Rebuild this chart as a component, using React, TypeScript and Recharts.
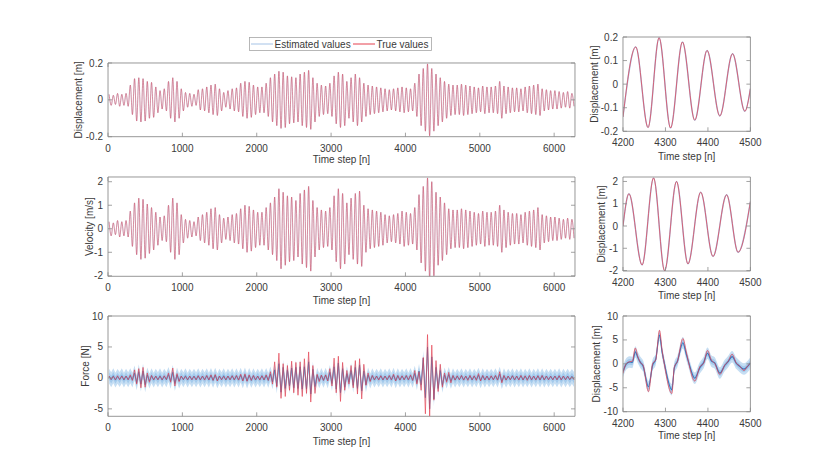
import React from "react"
import { ComposedChart, Line, Area, XAxis, YAxis } from "recharts"

// ---- data ----
// one oscillation lasts about 57 time steps (see the zoomed panels)
const CYCLE = 57.1
const fullDomain: [number, number] = [0, 6280]
const fullTicks = [0, 1000, 2000, 3000, 4000, 5000, 6000]
const zoomDomain: [number, number] = [4200, 4500]
const zoomTicks = [4200, 4300, 4400, 4500]
const seriesNames = ["Estimated values", "True values"]

// displacement amplitude per cycle [m]
const dispAmp = [
  0.03, 0.025, 0.035, 0.03, 0.035, 0.08, 0.115, 0.12, 0.115, 0.1,
  0.095, 0.07, 0.05, 0.06, 0.1, 0.12, 0.1, 0.06, 0.04, 0.035,
  0.03, 0.055, 0.06, 0.07, 0.08, 0.085, 0.06, 0.04, 0.05, 0.06,
  0.065, 0.09, 0.1, 0.095, 0.08, 0.07, 0.07, 0.09, 0.12, 0.14,
  0.155, 0.15, 0.13, 0.125, 0.12, 0.14, 0.15, 0.16, 0.12, 0.09,
  0.08, 0.075, 0.09, 0.13, 0.15, 0.14, 0.1, 0.12, 0.14, 0.12,
  0.09, 0.08, 0.075, 0.07, 0.065, 0.06, 0.055, 0.06, 0.065, 0.07,
  0.065, 0.06, 0.09, 0.14, 0.17, 0.195, 0.17, 0.14, 0.12, 0.1,
  0.085, 0.08, 0.08, 0.085, 0.08, 0.075, 0.07, 0.065, 0.075, 0.07,
  0.07, 0.075, 0.1, 0.075, 0.07, 0.065, 0.065, 0.06, 0.07, 0.075,
  0.08, 0.085, 0.06, 0.055, 0.05, 0.05, 0.045, 0.04, 0.045, 0.035,
]

// velocity amplitude per cycle [m/s]
const velAmp = [
  0.3, 0.25, 0.35, 0.3, 0.35, 0.75, 1.1, 1.3, 1.25, 1.05,
  0.9, 0.7, 0.5, 0.55, 1.0, 1.3, 1.1, 0.6, 0.4, 0.35,
  0.3, 0.5, 0.6, 0.7, 0.85, 0.9, 0.6, 0.45, 0.5, 0.6,
  0.65, 0.85, 1.0, 0.95, 0.8, 0.7, 0.7, 0.9, 1.1, 1.35,
  1.7, 1.55, 1.4, 1.35, 1.2, 1.5, 1.65, 1.8, 1.2, 0.9,
  0.8, 0.75, 0.9, 1.4, 1.7, 1.5, 1.1, 1.3, 1.5, 1.6,
  1.0, 0.85, 0.8, 0.75, 0.7, 0.6, 0.55, 0.6, 0.65, 0.75,
  0.7, 0.65, 0.9, 1.45, 1.8, 2.16, 2.0, 1.55, 1.35, 1.1,
  0.85, 0.8, 0.8, 0.85, 0.8, 0.75, 0.7, 0.65, 0.75, 0.7,
  0.7, 0.75, 1.0, 0.8, 0.7, 0.65, 0.65, 0.6, 0.7, 0.75,
  0.8, 0.9, 0.6, 0.55, 0.5, 0.5, 0.45, 0.4, 0.45, 0.4,
]

// true force, positive and negative extreme per cycle [N]
const forcePeak = [
  0.3, 0.25, 0.35, 0.3, 0.3, 0.5, 1.3, 1.5, 1.7, 0.8,
  0.4, 0.3, 0.25, 0.35, 0.8, 1.6, 0.7, 0.3, 0.25, 0.3,
  0.25, 0.35, 0.3, 0.4, 0.5, 0.55, 0.3, 0.25, 0.3, 0.35,
  0.4, 0.6, 0.65, 0.5, 0.4, 0.3, 0.35, 0.5, 1.0, 2.6,
  4.0, 2.3, 2.0, 2.7, 2.5, 2.6, 3.1, 4.2, 2.0, 0.6,
  0.45, 0.5, 1.5, 3.2, 3.5, 2.5, 1.2, 2.0, 2.8, 3.1,
  2.2, 0.8, 0.4, 0.3, 0.35, 0.3, 0.4, 0.6, 0.4, 0.35,
  0.4, 0.5, 1.2, 1.0, 3.3, 7.0, 5.3, 2.8, 2.2, 0.8,
  0.9, 0.4, 0.35, 0.4, 0.3, 0.4, 0.35, 0.7, 0.4, 0.3,
  0.35, 0.4, 1.0, 0.4, 0.3, 0.35, 0.3, 0.4, 0.35, 0.4,
  0.3, 0.35, 0.4, 0.3, 0.25, 0.3, 0.35, 0.3, 0.25, 0.2,
]
const forceTrough = [
  -0.25, -0.3, -0.3, -0.25, -0.3, -0.4, -1.0, -1.6, -1.5, -0.7,
  -0.3, -0.3, -0.3, -0.25, -0.7, -1.3, -0.6, -0.25, -0.3, -0.3,
  -0.3, -0.3, -0.35, -0.3, -0.4, -0.5, -0.3, -0.3, -0.3, -0.3,
  -0.35, -0.5, -0.55, -0.4, -0.3, -0.35, -0.3, -0.4, -1.0, -1.5,
  -3.3, -3.0, -2.0, -2.4, -2.8, -3.0, -2.5, -3.9, -2.5, -0.6,
  -0.4, -0.5, -1.3, -2.4, -3.8, -2.0, -1.0, -1.6, -2.6, -3.4,
  -1.2, -0.6, -0.3, -0.35, -0.3, -0.3, -0.3, -0.5, -0.35, -0.3,
  -0.3, -0.4, -1.0, -2.0, -5.8, -6.2, -3.6, -2.2, -1.5, -0.7,
  -0.8, -0.35, -0.3, -0.35, -0.4, -0.3, -0.4, -0.5, -0.3, -0.35,
  -0.3, -0.35, -0.8, -0.35, -0.3, -0.3, -0.35, -0.3, -0.4, -0.3,
  -0.35, -0.3, -0.3, -0.3, -0.3, -0.3, -0.3, -0.3, -0.25, -0.3,
]
// estimated force amplitude per cycle [N]
const forceEstAmp = [
  0.3, 0.35, 0.25, 0.35, 0.3, 0.35, 0.8, 1.0, 1.1, 0.5,
  0.35, 0.3, 0.35, 0.3, 0.55, 0.9, 0.5, 0.3, 0.35, 0.3,
  0.3, 0.35, 0.3, 0.35, 0.4, 0.45, 0.3, 0.35, 0.3, 0.35,
  0.35, 0.45, 0.5, 0.4, 0.35, 0.3, 0.35, 0.4, 0.65, 1.3,
  2.3, 1.7, 1.3, 1.6, 1.7, 1.8, 1.8, 2.6, 1.4, 0.45,
  0.4, 0.45, 0.9, 1.8, 2.4, 1.5, 0.7, 1.2, 1.7, 2.1,
  1.1, 0.5, 0.35, 0.3, 0.35, 0.3, 0.35, 0.45, 0.35, 0.3,
  0.35, 0.4, 0.75, 1.1, 3.2, 5.0, 3.4, 1.7, 1.2, 0.5,
  0.55, 0.35, 0.3, 0.35, 0.3, 0.35, 0.3, 0.45, 0.35, 0.3,
  0.3, 0.35, 0.6, 0.35, 0.3, 0.35, 0.3, 0.35, 0.3, 0.35,
  0.3, 0.35, 0.35, 0.3, 0.3, 0.3, 0.35, 0.3, 0.3, 0.25,
]
// half widths of the two confidence bands around the estimate [N]
const bandHalfWidth = [1.2, 0.6]

// zoomed window 4200-4500
const dispZoomSteps = [4200, 4230, 4259, 4285, 4312, 4340, 4369, 4398, 4428, 4458, 4487, 4500]
const dispZoomValues = [-0.139, 0.158, -0.184, 0.197, -0.186, 0.179, -0.153, 0.143, -0.135, 0.129, -0.115, -0.019]
const velZoomSteps = [4200, 4214, 4245, 4272, 4298, 4326, 4353, 4383, 4412, 4444, 4471, 4500]
const velZoomValues = [0.0, 1.45, -1.75, 2.16, -2.01, 2.0, -1.7, 1.52, -1.37, 1.4, -1.18, 1.1]
const forceZoomSteps = [
  4200, 4208, 4216, 4222, 4229, 4235, 4241, 4247, 4260, 4270, 4277, 4286, 4292, 4297, 4315, 4321, 4328, 4341,
  4349, 4354, 4369, 4381, 4390, 4399, 4408, 4416, 4428, 4440, 4447, 4457, 4467, 4473, 4485, 4494, 4500,
]
const forceZoomTrue = [
  -2.0, 0.1, 0.45, 0.55, 3.3, 1.5, 0.25, -0.2, -5.8, 0.1, 0.8, 7.0, 2.9, 0.1, -6.2, -0.6, 0.45, 5.3,
  2.5, 0.45, -3.6, -0.6, 0.1, 2.8, 0.8, 0.1, -2.2, -0.2, 0.45, 2.0, 0.1, -0.3, -1.4, -0.4, 0.1,
]
const forceZoomEst = [
  -1.6, 0.0, 0.4, 0.3, 2.5, 1.3, 0.3, -0.4, -4.8, -0.2, 0.9, 6.0, 2.5, 0.3, -5.4, -0.8, 0.5, 4.4,
  2.0, 0.5, -3.0, -0.8, 0.3, 2.2, 0.6, 0.2, -1.9, -0.3, 0.4, 1.5, 0.1, -0.4, -1.1, -0.5, 0.2,
]

// ---- tables for the charts ----
const peakStep = (i: number) => CYCLE * i + CYCLE / 4
const troughStep = (i: number) => CYCLE * i + (3 * CYCLE) / 4

const band = (e: number) => ({
  outer: [e - bandHalfWidth[0], e + bandHalfWidth[0]],
  inner: [e - bandHalfWidth[1], e + bandHalfWidth[1]],
})

const dispRows = dispAmp.flatMap((a, i) => [
  { step: peakStep(i), value: a },
  { step: troughStep(i), value: -a },
])
const velRows = velAmp.flatMap((a, i) => [
  { step: peakStep(i), value: a },
  { step: troughStep(i), value: -a },
])
const forceRows = forcePeak.flatMap((p, i) => {
  const e = forceEstAmp[i]
  return [
    { step: peakStep(i), truth: p, est: e, ...band(e) },
    { step: troughStep(i), truth: forceTrough[i], est: -e, ...band(-e) },
  ]
})
const dispZoomRows = dispZoomSteps.map((step, i) => ({ step, value: dispZoomValues[i] }))
const velZoomRows = velZoomSteps.map((step, i) => ({ step, value: velZoomValues[i] }))
const forceZoomRows = forceZoomSteps.map((step, i) => ({
  step,
  truth: forceZoomTrue[i],
  est: forceZoomEst[i],
  ...band(forceZoomEst[i]),
}))

// ---- styling ----
const FONT = '"Liberation Sans", Arial, Helvetica, sans-serif'
const AXIS = "#8c8c8c"
const TEXT = "#3a3a3a"
const RED = "#e5404f"
const LIGHT_BLUE = "#a5c3e6"
const BLUE = "#3676bd"
const BAND_OUTER = "#c6def3"
const BAND_INNER = "#98c3e9"
const TICK_LEN = 4
const X_GAP = 11.5
const Y_GAP = 5
const Y_W = 50
const PAD_RIGHT = 16
const PAD_BOTTOM = 8

const bottomTick = ({ x, y, payload }: any) => (
  <g>
    <line x1={x} x2={x} y1={y - X_GAP} y2={y - X_GAP - TICK_LEN} stroke={AXIS} strokeWidth={0.8} />
    <text x={x} y={y} dy="0.35em" textAnchor="middle" fontSize={10} fill={TEXT} fontFamily={FONT}>
      {payload.value}
    </text>
  </g>
)
const topTick = ({ x, y }: any) => (
  <line x1={x} x2={x} y1={y} y2={y + TICK_LEN} stroke={AXIS} strokeWidth={0.8} />
)
const leftTick = ({ x, y, payload }: any) => (
  <g>
    <line x1={x + Y_GAP} x2={x + Y_GAP + TICK_LEN} y1={y} y2={y} stroke={AXIS} strokeWidth={0.8} />
    <text x={x} y={y} dy="0.35em" textAnchor="end" fontSize={10} fill={TEXT} fontFamily={FONT}>
      {payload.value}
    </text>
  </g>
)
const rightTick = ({ x, y }: any) => (
  <line x1={x} x2={x - TICK_LEN} y1={y} y2={y} stroke={AXIS} strokeWidth={0.8} />
)

type Box = { left: number; top: number; width: number; height: number; xH: number; labelX: number }

function Panel({
  box,
  data,
  xDomain,
  xTicks,
  yDomain,
  yTicks,
  yLabel,
  children,
}: {
  box: Box
  data: any[]
  xDomain: [number, number]
  xTicks: number[]
  yDomain: [number, number]
  yTicks: number[]
  yLabel: string
  children: React.ReactNode
}) {
  const chartLeft = box.left - Y_W
  const chartTop = box.top - 5
  const axisLine = { stroke: AXIS, strokeWidth: 0.9 }
  return (
    <div style={{ position: "absolute", left: chartLeft, top: chartTop }}>
      <ComposedChart
        width={Y_W + box.width + 1 + PAD_RIGHT}
        height={5 + box.height + box.xH + PAD_BOTTOM}
        data={data}
        margin={{ top: 4, right: PAD_RIGHT, left: 0, bottom: 0 }}
      >
        <XAxis
          dataKey="step"
          type="number"
          domain={xDomain}
          ticks={xTicks}
          allowDataOverflow
          interval={0}
          height={box.xH + PAD_BOTTOM}
          tickSize={0}
          tickMargin={X_GAP}
          tickLine={false}
          axisLine={axisLine}
          tick={bottomTick}
          label={{ value: "Time step [n]", position: "insideBottom", offset: PAD_BOTTOM, fontSize: 10, fill: TEXT }}
        />
        <XAxis
          xAxisId="top"
          orientation="top"
          type="number"
          domain={xDomain}
          ticks={xTicks}
          allowDataOverflow
          interval={0}
          height={1}
          tickSize={0}
          tickMargin={0}
          tickLine={false}
          axisLine={axisLine}
          tick={topTick}
        />
        <YAxis
          type="number"
          domain={yDomain}
          ticks={yTicks}
          allowDataOverflow
          interval={0}
          width={Y_W}
          tickSize={0}
          tickMargin={Y_GAP}
          tickLine={false}
          axisLine={axisLine}
          tick={leftTick}
          label={{
            value: yLabel,
            angle: -90,
            position: "insideLeft",
            offset: box.labelX - chartLeft,
            fontSize: 10,
            fill: TEXT,
            style: { textAnchor: "middle" },
          }}
        />
        <YAxis
          yAxisId="right"
          orientation="right"
          type="number"
          domain={yDomain}
          ticks={yTicks}
          allowDataOverflow
          interval={0}
          width={1}
          tickSize={0}
          tickMargin={0}
          tickLine={false}
          axisLine={axisLine}
          tick={rightTick}
        />
        {children}
      </ComposedChart>
    </div>
  )
}

function Legend() {
  return (
    <svg style={{ position: "absolute", left: 249, top: 36.5 }} width={183} height={14}>
      <rect x={0.5} y={0.5} width={182} height={13} fill="#fff" stroke="#a6a6a6" strokeWidth={0.8} />
      <line x1={2} x2={24} y1={7} y2={7} stroke={LIGHT_BLUE} strokeWidth={1} />
      <text x={25.5} y={7} dy="0.35em" fontSize={10} fill={TEXT} fontFamily={FONT}>
        {seriesNames[0]}
      </text>
      <line x1={104} x2={126} y1={7} y2={7} stroke={RED} strokeWidth={1} />
      <text x={127.5} y={7} dy="0.35em" fontSize={10} fill={TEXT} fontFamily={FONT}>
        {seriesNames[1]}
      </text>
    </svg>
  )
}

const pairLines = (wide: number, thin: number, opacity: number) => [
  <Line key="est" dataKey="value" name={seriesNames[0]} type="monotone" stroke={LIGHT_BLUE} strokeWidth={wide} dot={false} isAnimationActive={false} />,
  <Line key="true" dataKey="value" name={seriesNames[1]} type="monotone" stroke={RED} strokeOpacity={opacity} strokeWidth={thin} dot={false} isAnimationActive={false} />,
]

const forceSeries = (curve: "linear" | "monotone", width: number, redOpacity: number) => [
  <Area key="outer" dataKey="outer" type={curve} stroke="none" fill={BAND_OUTER} fillOpacity={1} isAnimationActive={false} />,
  <Area key="inner" dataKey="inner" type={curve} stroke="none" fill={BAND_INNER} fillOpacity={0.75} isAnimationActive={false} />,
  <Line key="est" dataKey="est" name={seriesNames[0]} type={curve} stroke={BLUE} strokeWidth={width} dot={false} isAnimationActive={false} />,
  <Line key="true" dataKey="truth" name={seriesNames[1]} type={curve} stroke={RED} strokeOpacity={redOpacity} strokeWidth={width * 0.9} dot={false} isAnimationActive={false} />,
]

export default function App() {
  return (
    <div
      style={{
        position: "absolute",
        left: 0,
        top: 0,
        width: 830,
        height: 468,
        background: "#fff",
        fontFamily: FONT,
        overflow: "hidden",
      }}
    >
      <Panel
        box={{ left: 108, top: 63.3, width: 467, height: 73.7, xH: 26, labelX: 78 }}
        data={dispRows}
        xDomain={fullDomain}
        xTicks={fullTicks}
        yDomain={[-0.2, 0.2]}
        yTicks={[-0.2, 0, 0.2]}
        yLabel="Displacement [m]"
      >
        {pairLines(0.6, 0.55, 0.9)}
      </Panel>
      <Panel
        box={{ left: 108, top: 176.7, width: 467, height: 99.3, xH: 27.5, labelX: 89 }}
        data={velRows}
        xDomain={fullDomain}
        xTicks={fullTicks}
        yDomain={[-2.02, 2.2]}
        yTicks={[-2, -1, 0, 1, 2]}
        yLabel="Velocity [m/s]"
      >
        {pairLines(0.6, 0.55, 0.9)}
      </Panel>
      <Panel
        box={{ left: 108, top: 315.7, width: 467, height: 100.3, xH: 28.2, labelX: 85 }}
        data={forceRows}
        xDomain={fullDomain}
        xTicks={fullTicks}
        yDomain={[-6.2, 10]}
        yTicks={[-5, 0, 5, 10]}
        yLabel="Force [N]"
      >
        {forceSeries("linear", 0.8, 0.9)}
      </Panel>

      <Panel
        box={{ left: 623.3, top: 36.7, width: 127.4, height: 94.3, xH: 28.5, labelX: 595 }}
        data={dispZoomRows}
        xDomain={zoomDomain}
        xTicks={zoomTicks}
        yDomain={[-0.2, 0.2]}
        yTicks={[-0.2, -0.1, 0, 0.1, 0.2]}
        yLabel="Displacement [m]"
      >
        {pairLines(1.4, 1, 0.75)}
      </Panel>
      <Panel
        box={{ left: 623.3, top: 176.7, width: 127.4, height: 94, xH: 27.8, labelX: 601.7 }}
        data={velZoomRows}
        xDomain={zoomDomain}
        xTicks={zoomTicks}
        yDomain={[-2.02, 2.2]}
        yTicks={[-2, -1, 0, 1, 2]}
        yLabel="Displacement [m]"
      >
        {pairLines(1.4, 1, 0.75)}
      </Panel>
      <Panel
        box={{ left: 623.3, top: 316, width: 127.4, height: 95.7, xH: 27.5, labelX: 596.7 }}
        data={forceZoomRows}
        xDomain={zoomDomain}
        xTicks={zoomTicks}
        yDomain={[-10, 10]}
        yTicks={[-10, -5, 0, 5, 10]}
        yLabel="Displacement [m]"
      >
        {forceSeries("monotone", 1.1, 0.75)}
      </Panel>

      <Legend />
    </div>
  )
}
